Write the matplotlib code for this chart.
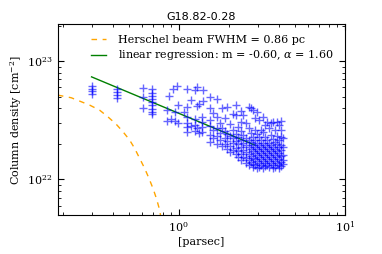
import numpy as np
import matplotlib
matplotlib.use("Agg")
import matplotlib.pyplot as plt

plt.rcParams["font.family"] = "DejaVu Serif"
plt.rcParams["mathtext.fontset"] = "dejavuserif"

# radial bins (pc) and column densities (1e22 cm^-2) at each bin
col_r = [0.299, 0.423, 0.607, 0.688,
         0.846, 0.870, 0.895, 0.920, 0.946, 0.973, 0.986,
         1.072, 1.117, 1.18, 1.248, 1.284, 1.320, 1.376, 1.395,
         1.537, 1.603, 1.694, 1.766, 1.816, 1.893, 1.945, 2.029,
         2.115, 2.206, 2.267, 2.363, 2.43, 2.533, 2.641,
         2.714, 2.791, 2.870, 2.950, 3.033, 3.119, 3.207, 3.297,
         3.39, 3.485, 3.583, 3.684, 3.787, 3.894, 4.003, 4.116, 4.232]
col_n = [
    [6.15, 5.84, 5.55, 5.26],
    [5.83, 5.51, 5.16, 4.84],
    [5.91, 4.93, 4.01],
    [5.77, 5.40, 5.09, 4.78, 4.48, 4.22, 3.95, 3.73, 3.57],
    [3.85, 3.11],
    [5.06],
    [3.23],
    [5.80],
    [3.11, 3.71],
    [6.15],
    [4.25, 2.99],
    [3.71],
    [5.80, 4.08, 3.36, 2.99, 2.77, 2.51],
    [4.68, 2.82],
    [5.69, 3.23, 2.88, 2.56],
    [6.03, 4.16, 2.71],
    [4.33, 2.46],
    [3.36, 3.05, 2.77, 2.51],
    [5.69, 4.59],
    [4.97, 4.01, 3.17, 2.82, 2.37, 2.07],
    [3.64, 2.61, 2.23],
    [4.78, 3.36, 2.71, 2.32, 1.99],
    [2.99, 2.46, 2.15],
    [4.01, 2.71, 1.91],
    [3.30, 2.56, 2.23, 1.99],
    [4.08, 2.41, 2.11, 1.80],
    [2.93, 2.32, 1.91, 1.70],
    [3.56, 2.61, 2.23, 2.03, 1.77],
    [4.25, 3.50, 2.41, 2.11, 1.84, 1.64],
    [2.77, 2.28, 1.99, 1.73, 1.54],
    [3.78, 3.05, 2.56, 2.15, 1.88, 1.64, 1.456],
    [3.50, 2.37, 2.03, 1.77, 1.54],
    [2.99, 2.23, 1.95, 1.70, 1.51, 1.37],
    [4.08, 2.71, 2.15, 1.88, 1.64, 1.456, 1.32],
    [4.01, 2.46, 2.07, 1.80, 1.57, 1.40],
    [3.85, 2.28, 1.95, 1.73, 1.51, 1.35, 1.27],
    [3.30, 2.61, 2.15, 1.88, 1.67, 1.48, 1.32],
    [3.71, 2.41, 2.03, 1.80, 1.60, 1.43, 1.243],
    [3.17, 2.28, 1.95, 1.73, 1.54, 1.37, 1.27],
    [2.61, 2.15, 1.88, 1.67, 1.48, 1.32],
    [3.36, 2.51, 2.03, 1.80, 1.60, 1.43, 1.243],
    [2.88, 2.28, 1.95, 1.73, 1.54, 1.37, 1.30],
    [3.05, 2.15, 1.88, 1.67, 1.48, 1.32],
    [2.71, 2.03, 1.80, 1.60, 1.43, 1.27],
    [2.99, 2.37, 1.95, 1.73, 1.54, 1.37],
    [3.05, 2.19, 1.88, 1.67, 1.48, 1.32, 1.243],
    [2.61, 2.07, 1.80, 1.60, 1.43, 1.27],
    [3.05, 2.32, 1.99, 1.73, 1.54, 1.37],
    [2.88, 2.15, 1.88, 1.67, 1.48, 1.32, 1.243],
    [3.11, 2.61, 2.28, 1.95, 1.77, 1.57, 1.40, 1.30],
    [2.23, 1.88, 1.60, 1.456, 1.35],
]

# Herschel beam profile (pc, 1e22 cm^-2)
beam_r = [0.1875, 0.2258, 0.2910, 0.3343, 0.3751, 0.4213, 0.4619, 0.5067,
          0.5431, 0.5821, 0.6239, 0.6625, 0.7002, 0.7340, 0.7683, 0.78]
beam_n = [5.16, 4.90, 4.25, 3.85, 3.38, 2.92, 2.53, 2.15,
          1.83, 1.505, 1.239, 1.02, 0.839, 0.691, 0.550, 0.48]

# regression line end points
fit_r = [0.299, 2.87]
fit_n = [7.36, 1.95]

r_pts, n_pts = [], []
for r, ns in zip(col_r, col_n):
    for n in ns:
        r_pts.append(r)
        n_pts.append(n * 1e22)

fig = plt.figure(figsize=(3.82, 2.54), dpi=100)
ax = fig.add_axes([0.151, 0.1535, 0.752, 0.752])

ax.plot(beam_r, np.array(beam_n) * 1e22, "--", color="orange", lw=1.0,
        dashes=(4, 4), label="Herschel beam FWHM = 0.86 pc")
ax.plot(fit_r, np.array(fit_n) * 1e22, "-", color="green", lw=1.0,
        label=r"linear regression: m = -0.60, $\alpha$ = 1.60")
ax.plot(r_pts, n_pts, "+", color="blue", alpha=0.6, ms=5.5, mew=1.0)

ax.set_xscale("log")
ax.set_yscale("log")
ax.set_xlim(0.187, 10)
ax.set_ylim(5e21, 2.06e23)

ax.tick_params(which="both", direction="in", top=True, right=True, labelsize=8)
ax.tick_params(which="major", length=4)
ax.tick_params(which="minor", length=2)

ax.set_xlabel("[parsec]", fontsize=8, labelpad=2)
ax.set_ylabel("Column density [cm$^{-2}$]", fontsize=8, labelpad=2)
ax.set_title("G18.82-0.28", fontsize=8, family="DejaVu Sans", pad=3)
ax.legend(loc="upper right", frameon=False, fontsize=8, handlelength=1.4,
          handletextpad=1.1, borderaxespad=0.55, labelspacing=0.35)

fig.savefig("out.png", dpi=100)
